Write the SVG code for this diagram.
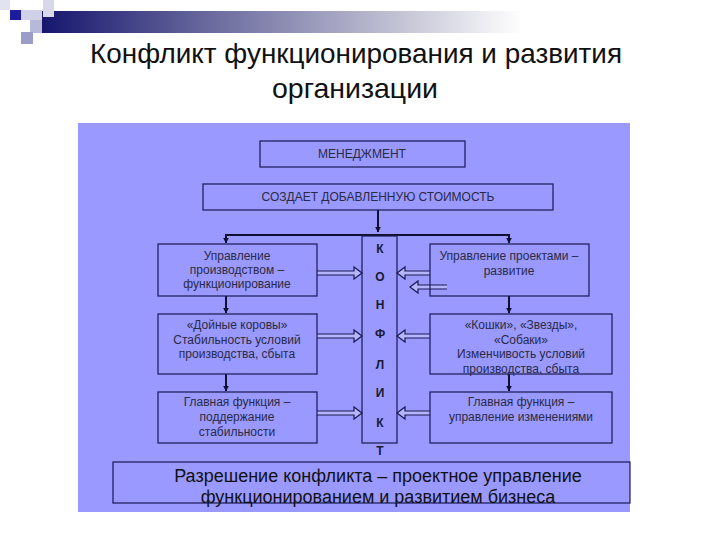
<svg xmlns="http://www.w3.org/2000/svg" width="720" height="540" viewBox="0 0 720 540">
<defs>
<linearGradient id="bar" x1="0" y1="0" x2="1" y2="0">
<stop offset="0" stop-color="#16166e"/>
<stop offset="0.35" stop-color="#6a6a9e"/>
<stop offset="0.75" stop-color="#c4c4d6"/>
<stop offset="1" stop-color="#ffffff"/>
</linearGradient>
<marker id="ah" viewBox="0 0 10 10" refX="9" refY="5" markerWidth="6" markerHeight="6" orient="auto" markerUnits="userSpaceOnUse">
<path d="M0,0 L10,5 L0,10 z" fill="#101030"/>
</marker>
<style>
.box{fill:none;stroke:#1a1a50;stroke-width:1.2}
.t{font-family:"Liberation Sans",Arial,sans-serif;font-size:12px;fill:#2a2a44;text-anchor:middle}
.k{font-family:"Liberation Sans",Arial,sans-serif;font-size:12px;font-weight:bold;fill:#1a1a30;text-anchor:middle}
.ln{stroke:#101030;stroke-width:2;fill:none}
.da{fill:#b4b4ff;stroke:#1a1a50;stroke-width:1.2}
</style>
</defs>
<rect width="720" height="540" fill="#ffffff"/>
<g id="decor">
<rect x="42" y="11" width="480" height="22" fill="url(#bar)"/>
<rect x="0" y="0" width="10" height="10" fill="#e2e2f0"/>
<rect x="43" y="0" width="11" height="17" fill="#d8d8ea"/>
<rect x="10" y="10" width="11" height="10" fill="#1c1c9c"/>
<rect x="21" y="10" width="21" height="10" fill="#d0d0e8"/>
<rect x="30" y="20" width="12" height="13" fill="#b8b8d8"/>
<rect x="21" y="32" width="12" height="12" fill="#9c9cc8"/>
</g>
<g id="title">
<text x="356" y="63" font-family="Liberation Sans Narrow,Liberation Sans,Arial,sans-serif" font-size="28" fill="#111" text-anchor="middle" textLength="532" lengthAdjust="spacingAndGlyphs">Конфликт функционирования и развития</text>
<text x="355" y="98" font-family="Liberation Sans Narrow,Liberation Sans,Arial,sans-serif" font-size="28" fill="#111" text-anchor="middle" textLength="166" lengthAdjust="spacingAndGlyphs">организации</text>
</g>
<rect id="panel" x="78" y="123" width="552" height="389" fill="#9999ff"/>
<g id="connectors">
<line class="ln" x1="378" y1="210" x2="378" y2="232" marker-end="url(#ah)"/>
<polyline class="ln" points="226,243 226,235 509,235 509,243"/>
<line class="ln" x1="226" y1="235" x2="226" y2="243" marker-end="url(#ah)"/>
<line class="ln" x1="509" y1="235" x2="509" y2="243" marker-end="url(#ah)"/>
<line class="ln" x1="226" y1="296" x2="226" y2="313" marker-end="url(#ah)"/>
<line class="ln" x1="226" y1="374" x2="226" y2="391" marker-end="url(#ah)"/>
<line class="ln" x1="509" y1="296" x2="509" y2="313" marker-end="url(#ah)"/>
<line class="ln" x1="509" y1="374" x2="509" y2="391" marker-end="url(#ah)"/>
<path class="da" d="M317,271 H354 V267 L362,273 L354,279 V275 H317"/>
<path class="da" d="M430,271 H405 V267 L397,273 L405,279 V275 H430"/>
<path class="da" d="M447,285 H418 V281 L410,287 L418,293 V289 H447"/>
<path class="da" d="M317,334 H354 V330 L362,336 L354,342 V338 H317"/>
<path class="da" d="M430,334 H405 V330 L397,336 L405,342 V338 H430"/>
<path class="da" d="M317,411 H354 V407 L362,413 L354,419 V415 H317"/>
<path class="da" d="M430,411 H405 V407 L397,413 L405,419 V415 H430"/>
</g>
<g id="management">
<rect class="box" x="260" y="141" width="205" height="26"/>
<text class="t" x="362" y="158">МЕНЕДЖМЕНТ</text>
</g>
<g id="value">
<rect class="box" x="203" y="184" width="350" height="26"/>
<text class="t" x="378" y="201">СОЗДАЕТ ДОБАВЛЕННУЮ СТОИМОСТЬ</text>
</g>
<g id="conflict">
<rect class="box" x="362" y="236" width="35" height="207"/>
<text class="k" x="380" y="253">К</text>
<text class="k" x="380" y="281">О</text>
<text class="k" x="380" y="309">Н</text>
<text class="k" x="380" y="338">Ф</text>
<text class="k" x="380" y="369">Л</text>
<text class="k" x="380" y="397">И</text>
<text class="k" x="380" y="427">К</text>
<text class="k" x="380" y="455">Т</text>
</g>
<g id="left1">
<rect class="box" x="158" y="244" width="159" height="52"/>
<text class="t" x="237" y="260">Управление</text>
<text class="t" x="237" y="274">производством –</text>
<text class="t" x="237" y="288">функционирование</text>
</g>
<g id="left2">
<rect class="box" x="158" y="314" width="159" height="60"/>
<text class="t" x="237" y="329">«Дойные коровы»</text>
<text class="t" x="237" y="344">Стабильность условий</text>
<text class="t" x="237" y="358">производства,  сбыта</text>
</g>
<g id="left3">
<rect class="box" x="158" y="392" width="159" height="51"/>
<text class="t" x="237" y="406">Главная функция –</text>
<text class="t" x="237" y="421">поддержание</text>
<text class="t" x="237" y="436">стабильности</text>
</g>
<g id="right1">
<rect class="box" x="430" y="244" width="159" height="52"/>
<text class="t" x="509" y="260">Управление проектами –</text>
<text class="t" x="509" y="275">развитие</text>
</g>
<g id="right2">
<rect class="box" x="430" y="314" width="182" height="60"/>
<text class="t" x="521" y="329">«Кошки», «Звезды»,</text>
<text class="t" x="521" y="344">«Собаки»</text>
<text class="t" x="521" y="358">Изменчивость условий</text>
<text class="t" x="521" y="373">производства, сбыта</text>
</g>
<g id="right3">
<rect class="box" x="430" y="392" width="182" height="51"/>
<text class="t" x="521" y="406">Главная функция –</text>
<text class="t" x="521" y="421">управление изменениями</text>
</g>
<g id="resolution">
<rect class="box" x="113" y="462" width="517" height="41"/>
<text x="378" y="482" font-family="Liberation Sans,Arial,sans-serif" font-size="18" fill="#111" text-anchor="middle">Разрешение конфликта – проектное управление</text>
<text x="378" y="503" font-family="Liberation Sans,Arial,sans-serif" font-size="18" fill="#111" text-anchor="middle">функционированием и развитием бизнеса</text>
</g>
</svg>
